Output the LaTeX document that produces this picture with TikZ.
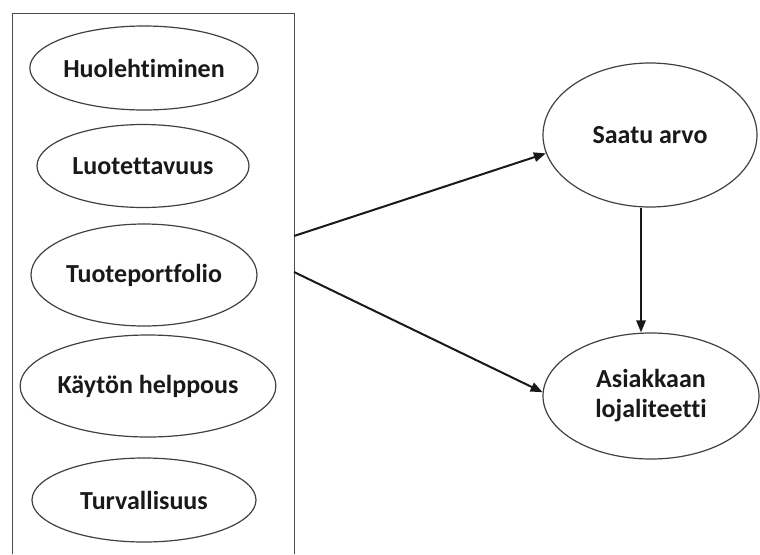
\documentclass[tikz,border=0pt]{standalone}
\usepackage{fontspec}
\setmainfont{Carlito}[Ligatures={NoCommon}]
\usetikzlibrary{shapes.geometric,arrows.meta}
\begin{document}
\begin{tikzpicture}[x=0.75pt,y=-0.75pt,
  oval/.style={ellipse, draw=black!75, line width=0.9pt, inner sep=0pt,
    font=\bfseries\fontsize{19.5}{22.5}\selectfont, text=black!90, align=center},
  boxline/.style={draw=black!70, line width=1.1pt},
  conn/.style={draw=black!90, line width=1.5pt, -{Triangle[length=9pt,width=7pt]}}]
\useasboundingbox (0,0) rectangle (760,554);
\node[draw=none, minimum width=210.75pt, minimum height=405pt, inner sep=0pt] (box) at (153.5,284) {};
\draw[boxline] (box.south west) -- (box.north west) -- (box.north east) -- (box.south east);

\node[oval, minimum width=157.5pt, minimum height=63pt] (h) at (144,68) {Huolehtiminen};
\node[oval, minimum width=159pt, minimum height=62.25pt] (l) at (143,166) {Luotettavuus};
\node[oval, minimum width=169.5pt, minimum height=76.5pt] (t) at (144,275) {Tuoteportfolio};
\node[oval, minimum width=162pt, minimum height=76.5pt] (k) at (148,386) {Käytön helppous};
\node[oval, minimum width=168pt, minimum height=63pt] (tu) at (144,500) {Turvallisuus};

\node[oval, minimum width=160.5pt, minimum height=108pt] (s) at (650,135) {Saatu arvo};
\node[oval, minimum width=162pt, minimum height=94.5pt] (a) at (651,396) {Asiakkaan\\lojaliteetti};

\coordinate (o1) at (294,236);
\coordinate (o2) at (294,272);
\coordinate (vx) at (641,0);

\draw[conn] (o1) -- (s.190);
\draw[conn] (o2) -- (a.178);
\draw[conn] (s.south -| vx) -- (a.north -| vx);
\end{tikzpicture}
\end{document}
